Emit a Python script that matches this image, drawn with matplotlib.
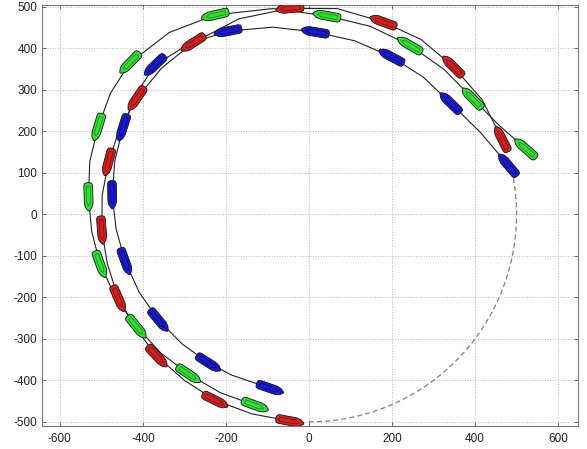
import numpy as np
import matplotlib.pyplot as plt
from matplotlib.patches import Polygon, Arc
from matplotlib.transforms import Affine2D

# trajectories; ships sit on every other point
green_x = [522, 458, 394, 325.3, 243, 147.4, 43, -87.3, -226, -336.1, -431, -478.0,
           -508, -528.0, -531, -523.4, -503, -466.0, -415, -357.6, -290, -213.4, -130]
green_y = [158, 214, 279, 348.9, 407, 452.7, 478, 495.4, 480, 438.0, 365, 291.8,
           210, 126.7, 42, -41.2, -120, -199.7, -271, -333.5, -385, -429.9, -460]

red_x = [465, 417.0, 347, 270.1, 179, 67.9, -46, -168.6, -279, -354.8, -415, -456.8,
         -483, -497.9, -499, -485.6, -459, -417.9, -366, -300.2, -226, -137.0, -46]
red_y = [181, 276.0, 356, 420.8, 463, 495.4, 496, 470.7, 413, 352.3, 279, 203.4,
         126, 46.2, -38, -119.3, -203, -274.5, -342, -399.9, -448, -480.9, -498]

blue_x = [480, 414, 341, 275.2, 199, 110.3, 15, -87.6, -195, -287.9, -371, -417.8,
          -448, -467.6, -474, -464.7, -443, -408.8, -362, -306.3, -242, -187.1, -94]
blue_y = [118, 196, 268, 330.4, 379, 417.7, 439, 450.6, 441, 411.2, 359, 287.2,
          209, 128.8, 47, -34.9, -113, -188.1, -255, -311.7, -358, -387.1, -419]

ref_radius = 500
ref_start, ref_end = -90, 11   # degrees, dashed part of the reference circle

xticks = [-600, -400, -200, 0, 200, 400, 600]
yticks = [-500, -400, -300, -200, -100, 0, 100, 200, 300, 400, 500]

plt.rcParams['font.family'] = ['Liberation Sans', 'DejaVu Sans']
plt.rcParams['axes.unicode_minus'] = False

fig = plt.figure(figsize=(5.87, 4.49), dpi=100)
ax = fig.add_axes([42 / 587, 1 - 426 / 449, 536 / 587, 421 / 449])

# ship outline (unit half length / half width), bow at +x, rounded stern
hull = np.array([(-1.0, -0.35), (-0.95, -0.8), (-0.8, -1.0), (0.45, -1.0),
                 (0.75, -0.75), (1.0, -0.15), (1.0, 0.15), (0.75, 0.75),
                 (0.45, 1.0), (-0.8, 1.0), (-0.95, 0.8), (-1.0, 0.35)])
deck = np.array([(-0.75, -0.45), (0.4, -0.45), (0.65, 0.0), (0.4, 0.45), (-0.75, 0.45)])

ax.add_patch(Arc((0, 0), 2 * ref_radius, 2 * ref_radius, theta1=ref_start, theta2=ref_end,
                 color='#808080', lw=0.9, linestyle=(0, (4, 2.5)), zorder=2))

ships = [(green_x, green_y, '#33dd33', '#168816'),
         (red_x, red_y, '#d42020', '#7a1010'),
         (blue_x, blue_y, '#1a1ad0', '#0a0a70')]

for xs, ys, face, dark in ships:
    xs, ys = np.array(xs), np.array(ys)
    ax.plot(xs, ys, color='#222222', lw=0.8, zorder=2)
    dx, dy = np.gradient(xs), np.gradient(ys)
    for i in range(0, len(xs), 2):
        ang = np.arctan2(dy[i], dx[i])
        tr = Affine2D().scale(34, 10.5).rotate(ang).translate(xs[i], ys[i]) + ax.transData
        ax.add_patch(Polygon(hull, closed=True, fc=face, ec='#111111', lw=0.6,
                             transform=tr, zorder=3))
        ax.add_patch(Polygon(deck, closed=True, fill=False, ec=dark, lw=0.5,
                             transform=tr, zorder=4))

ax.set_xlim(-643, 648)
ax.set_ylim(-510, 504)
ax.set_xticks(xticks)
ax.set_yticks(yticks)

ax.grid(True, linestyle=':', color='#b8b8b8', lw=0.7)
ax.set_axisbelow(True)
ax.tick_params(direction='in', top=True, right=True, length=3, width=0.6,
               colors='#555555', labelcolor='#222222', labelsize=8.5)
ax.tick_params(axis='x', pad=5)
for s in ax.spines.values():
    s.set_color('#777777')
    s.set_linewidth(0.8)

fig.savefig('out.png', dpi=100)
